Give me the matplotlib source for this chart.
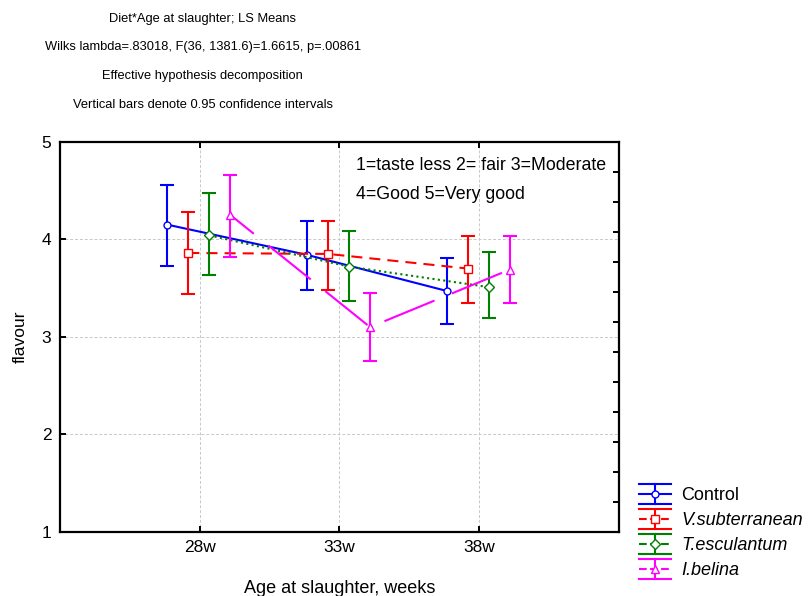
import matplotlib
matplotlib.use('Agg')
import matplotlib.pyplot as plt
import numpy as np
from matplotlib.lines import Line2D
from matplotlib.legend_handler import HandlerBase
from matplotlib import font_manager

plt.rcParams['font.family'] = ['Liberation Sans', 'DejaVu Sans']

# 데이터
ages = ['28w', '33w', '38w']
groups = ['Control', 'V.subterranean', 'T.esculantum', 'I.belina']

control_mean = [4.15, 3.84, 3.47]
control_low = [3.73, 3.48, 3.13]
control_high = [4.56, 4.19, 3.81]

vsub_mean = [3.86, 3.85, 3.70]
vsub_low = [3.44, 3.48, 3.35]
vsub_high = [4.28, 4.19, 4.03]

tesc_mean = [4.04, 3.72, 3.51]
tesc_low = [3.63, 3.37, 3.19]
tesc_high = [4.47, 4.08, 3.87]

ibel_mean = [4.25, 3.10, 3.69]
ibel_low = [3.82, 2.75, 3.35]
ibel_high = [4.66, 3.45, 4.03]

means = [control_mean, vsub_mean, tesc_mean, ibel_mean]
lows = [control_low, vsub_low, tesc_low, ibel_low]
highs = [control_high, vsub_high, tesc_high, ibel_high]

# 스타일
colors = ['#0000ff', '#ff0000', '#008000', '#ff00ff']
markers = ['o', 's', 'D', '^']
msizes = [5, 5.5, 5, 6]
lstyles = ['-', (0, (5.3, 3.4)), (0, (1.0, 1.6)), (11.5, (26, 9))]
offsets = [-0.23, -0.08, 0.07, 0.22]
lw = 1.5

# 제목용 좁은 글꼴 (없으면 일반 글꼴)
names = {f.name for f in font_manager.fontManager.ttflist}
if 'Liberation Sans Narrow' in names:
    title_font = ['Liberation Sans Narrow', 'DejaVu Sans']
    title_size = 10.5
else:
    title_font = ['Liberation Sans', 'DejaVu Sans']
    title_size = 9.3

fig = plt.figure(figsize=(8.08, 5.96), dpi=100)
ax = fig.add_axes([0.0739, 0.1074, 0.6921, 0.6548])

x = np.arange(1, len(ages) + 1)
handles = []
for i in range(4):
    m = np.array(means[i])
    lo = m - np.array(lows[i])
    hi = np.array(highs[i]) - m
    xi = x + offsets[i]
    ax.errorbar(xi, m, yerr=[lo, hi], fmt='none', ecolor=colors[i],
                elinewidth=lw, capsize=4.7, capthick=lw, zorder=2 + i)
    ln, = ax.plot(xi, m, color=colors[i], lw=lw, linestyle=lstyles[i],
                  marker=markers[i], ms=msizes[i], mfc='white',
                  mec=colors[i], mew=1.0, zorder=3 + i)
    handles.append(ln)

ax.set_xlim(0, 4)
ax.set_ylim(1, 5)
ax.set_xticks(x)
ax.set_xticklabels(ages)
ax.set_yticks([1, 2, 3, 4, 5])
ax.grid(True, color='#c8c8c8', linestyle='--', linewidth=0.7, dashes=(3, 2))
ax.set_axisbelow(True)

for s in ax.spines.values():
    s.set_linewidth(1.6)
ax.tick_params(axis='both', direction='in', length=4, width=1.4,
               labelsize=12.5, top=True, right=False, pad=6)

# 오른쪽 보조 눈금
ax2 = ax.twinx()
ax2.set_ylim(1, 5)
ax2.set_yticks(np.linspace(1, 5, 14))
ax2.set_yticklabels([])
ax2.tick_params(axis='y', direction='in', length=4, width=1.4)
for s in ax2.spines.values():
    s.set_visible(False)

ax.set_xlabel('Age at slaughter, weeks', fontsize=13)
ax.set_ylabel('flavour', fontsize=12.5)
ax.xaxis.set_label_coords(0.5, -0.122)
ax.yaxis.set_label_coords(-0.058, 0.5)

ax.text(0.53, 0.94, '1=taste less 2= fair 3=Moderate', transform=ax.transAxes,
        fontsize=12.8, va='center', ha='left', zorder=10)
ax.text(0.53, 0.866, '4=Good 5=Very good', transform=ax.transAxes,
        fontsize=12.8, va='center', ha='left', zorder=10)

titles = ['Diet*Age at slaughter; LS Means',
          'Wilks lambda=.83018, F(36, 1381.6)=1.6615, p=.00861',
          'Effective hypothesis decomposition',
          'Vertical bars denote 0.95 confidence intervals']
for t, yp in zip(titles, [0.968, 0.921, 0.872, 0.824]):
    fig.text(0.251, yp, t, ha='center', va='center', fontsize=title_size,
             family=title_font)


class CapHandler(HandlerBase):
    def create_artists(self, legend, orig, xdescent, ydescent, width, height,
                       fontsize, trans):
        c = orig.get_color()
        x0, x1 = -xdescent, width - xdescent
        xm = (x0 + x1) / 2
        ym = height / 2 - ydescent
        h = 7.2
        arts = [
            Line2D([x0, x1], [ym + h, ym + h], color=c, lw=lw),
            Line2D([x0, x1], [ym - h, ym - h], color=c, lw=lw),
            Line2D([xm, xm], [ym - h, ym + h], color=c, lw=lw),
            Line2D([x0, x1], [ym, ym], color=c, lw=lw, linestyle=orig.get_linestyle()),
            Line2D([xm], [ym], marker=orig.get_marker(), ms=orig.get_markersize(),
                   mfc='white', mec=c, mew=1.0, linestyle='none'),
        ]
        for a in arts:
            a.set_transform(trans)
        return arts


leg = fig.legend(handles, groups, loc='upper left',
                 bbox_to_anchor=(639 / 808, 1 - 485 / 596),
                 frameon=False, fontsize=13, borderpad=0, borderaxespad=0,
                 handlelength=1.78, handleheight=1.15, handletextpad=0.55,
                 labelspacing=0.33,
                 handler_map={Line2D: CapHandler()})
for txt in leg.get_texts()[1:]:
    txt.set_fontstyle('italic')

fig.savefig('out.png', dpi=100)
